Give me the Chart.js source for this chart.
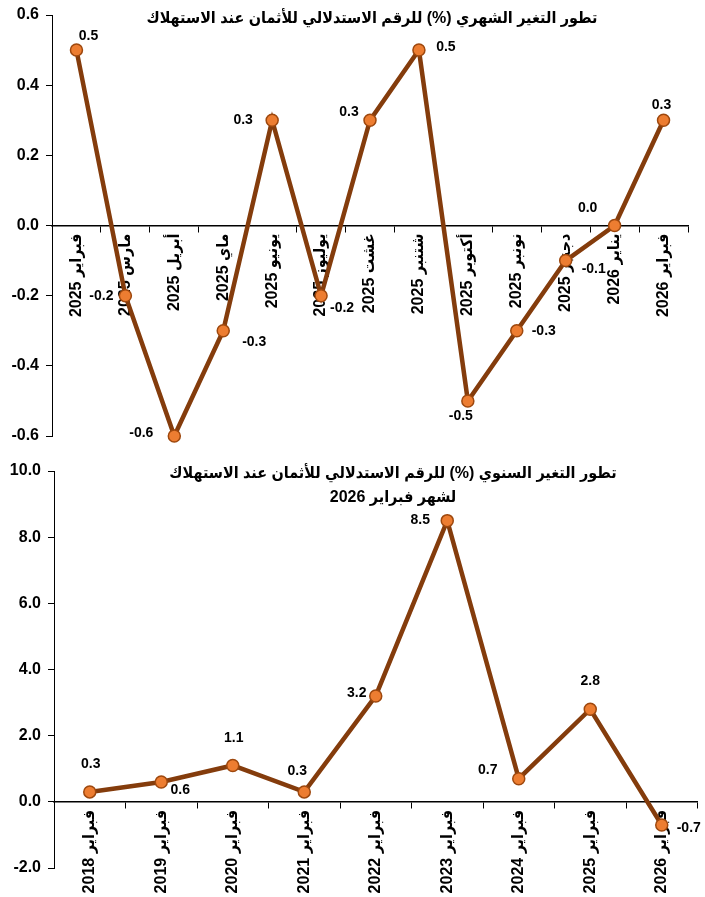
<!DOCTYPE html>
<html>
<head>
<meta charset="utf-8">
<script src="https://cdn.jsdelivr.net/npm/chart.js@4.4.1/dist/chart.umd.min.js"></script>
<style>
  html, body { margin: 0; padding: 0; background: #ffffff; }
  body { width: 705px; height: 897px; position: relative; overflow: hidden; }
  .box { position: absolute; left: 0; width: 705px; }
  #top { top: 0; height: 452px; }
  #bottom { top: 450px; height: 447px; }
</style>
</head>
<body>
<div class="box" id="top"><canvas id="c1" width="705" height="452"></canvas></div>
<div class="box" id="bottom"><canvas id="c2" width="705" height="447"></canvas></div>
<script>
// ---------- DATA ----------
const monthlyCategories = ['فبراير 2025', 'مارس 2025', 'أبريل 2025', 'ماي 2025', 'يونيو 2025', 'يوليوز 2025', 'غشت 2025', 'شتنبر 2025', 'أكتوبر 2025', 'نونبر 2025', 'دجنبر 2025', 'يناير 2026', 'فبراير 2026'];
const monthlyValues = [0.5, -0.2, -0.6, -0.3, 0.3, -0.2, 0.3, 0.5, -0.5, -0.3, -0.1, 0.0, 0.3];
const monthlyTitle = ['تطور التغير الشهري (%) للرقم الاستدلالي للأثمان عند الاستهلاك'];

const annualCategories = ['فبراير 2018', 'فبراير 2019', 'فبراير 2020', 'فبراير 2021', 'فبراير 2022', 'فبراير 2023', 'فبراير 2024', 'فبراير 2025', 'فبراير 2026'];
const annualValues = [0.3, 0.6, 1.1, 0.3, 3.2, 8.5, 0.7, 2.8, -0.7];
const annualTitle = ['تطور التغير السنوي (%) للرقم الاستدلالي للأثمان عند الاستهلاك', 'لشهر فبراير 2026'];

// ---------- STYLE (label placement offsets, px) ----------
const monthlyLabelOffsets = [[12,-14],[-24,0],[-33,-3],[31,11],[-29,0],[21,12],[-21,-8],[27,-3],[-7,15],[27,0],[28,9],[-27,-17],[-2,-15]];
const annualLabelOffsets = [[1,-28],[19,8],[1,-27],[-7,-21],[-19,-3],[-27,0],[-31,-9],[0,-28],[27,3]];

const LINE_COLOR = '#843C0C';
const POINT_FILL = '#ED7D31';
const POINT_BORDER = '#9E480E';
const NUM_FONT = "'Liberation Sans', Arial, 'DejaVu Sans', sans-serif";
const AR_FONT = "'Liberation Sans', Arial, 'DejaVu Sans Condensed', 'DejaVu Sans', sans-serif";

const valueLabels = {
  id: 'valueLabels',
  afterDatasetsDraw(chart, args, opts) {
    const ctx = chart.ctx;
    const meta = chart.getDatasetMeta(0);
    const ds = chart.data.datasets[0];
    ctx.save();
    ctx.font = opts.font;
    ctx.fillStyle = '#000';
    ctx.textAlign = 'center';
    ctx.textBaseline = 'middle';
    meta.data.forEach((pt, i) => {
      const off = opts.offsets[i] || [0, -15];
      ctx.fillText(ds.data[i].toFixed(1), pt.x + off[0], pt.y + off[1]);
    });
    ctx.restore();
  }
};

const freeTitle = {
  id: 'freeTitle',
  afterDraw(chart, args, opts) {
    const ctx = chart.ctx;
    ctx.save();
    ctx.font = opts.font;
    ctx.fillStyle = '#000';
    ctx.textAlign = 'center';
    ctx.textBaseline = 'middle';
    ctx.direction = 'rtl';
    opts.lines.forEach((t, i) => {
      ctx.fillText(t, opts.x, opts.y + i * opts.lineHeight);
    });
    ctx.restore();
  }
};

function makeChart(id, cats, vals, cfg) {
  return new Chart(document.getElementById(id), {
    type: 'line',
    data: {
      labels: cats,
      datasets: [{
        data: vals,
        borderColor: LINE_COLOR,
        borderWidth: 4.5,
        backgroundColor: POINT_FILL,
        pointBackgroundColor: POINT_FILL,
        pointBorderColor: POINT_BORDER,
        pointBorderWidth: 1.5,
        pointRadius: 6,
        tension: 0,
        fill: false,
        clip: false
      }]
    },
    options: {
      responsive: false,
      animation: false,
      devicePixelRatio: 1,
      layout: { padding: cfg.padding },
      plugins: {
        legend: { display: false },
        tooltip: { enabled: false },
        title: { display: false },
        valueLabels: { font: 'bold 14px ' + NUM_FONT, offsets: cfg.offsets },
        freeTitle: { lines: cfg.title, x: cfg.titleX, y: cfg.titleY, lineHeight: 24, font: 'bold 16px ' + AR_FONT }
      },
      scales: {
        x: {
          type: 'category',
          position: { y: 0 },
          offset: true,
          afterFit(scale) { scale.height = 0; scale.paddingTop = 0; scale.paddingBottom = 0; },
          grid: {
            display: true,
            offset: true,
            drawOnChartArea: false,
            drawTicks: true,
            tickLength: 6,
            tickColor: '#000',
            tickWidth: 1
          },
          border: { display: true, color: '#000', width: 1.5 },
          ticks: {
            autoSkip: false,
            minRotation: 90,
            maxRotation: 90,
            padding: 2,
            color: '#000',
            font: { family: AR_FONT, size: cfg.xFontSize, weight: 'bold' }
          }
        },
        y: {
          min: cfg.min,
          max: cfg.max,
          afterFit(scale) { scale.width = cfg.yWidth; scale.paddingTop = 0; scale.paddingBottom = 0; },
          grid: {
            display: true,
            drawOnChartArea: false,
            drawTicks: true,
            tickLength: 6,
            tickColor: '#000'
          },
          border: { display: true, color: '#000', width: 1 },
          ticks: {
            stepSize: cfg.step,
            padding: 7,
            color: '#000',
            font: { family: NUM_FONT, size: 16, weight: 'bold' },
            callback: (v) => (Math.abs(v) < 1e-9 ? 0 : v).toFixed(1)
          }
        }
      }
    },
    plugins: [valueLabels, freeTitle]
  });
}

makeChart('c1', monthlyCategories, monthlyValues, {
  padding: { top: 15, bottom: 16, left: 0, right: 17 },
  offsets: monthlyLabelOffsets,
  title: monthlyTitle, titleX: 372, titleY: 19,
  min: -0.6, max: 0.6, step: 0.2, yWidth: 52, xFontSize: 16
});

makeChart('c2', annualCategories, annualValues, {
  padding: { top: 21, bottom: 29, left: 0, right: 6 },
  offsets: annualLabelOffsets,
  title: annualTitle, titleX: 393, titleY: 24,
  min: -2, max: 10, step: 2, yWidth: 54, xFontSize: 16
});
</script>
</body>
</html>
